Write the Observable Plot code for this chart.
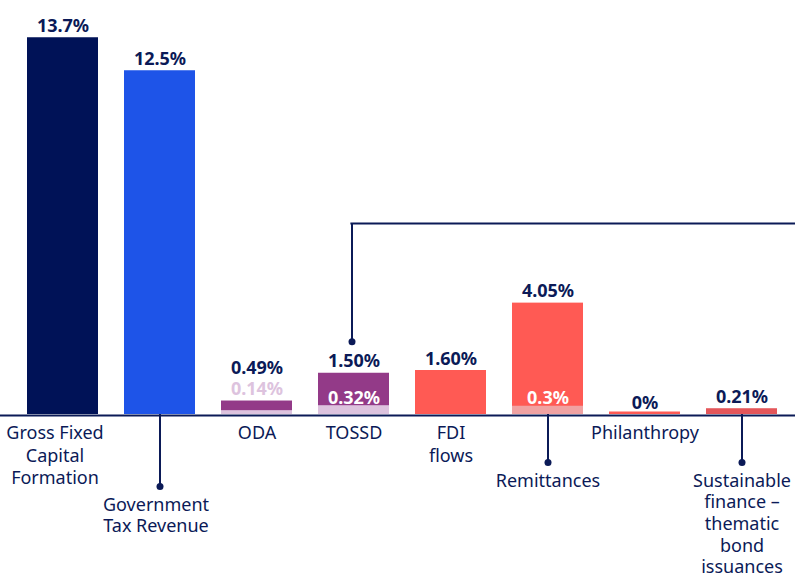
<!DOCTYPE html>
<html><head><meta charset="utf-8">
<script src="https://cdn.jsdelivr.net/npm/d3@7"></script>
<script src="https://cdn.jsdelivr.net/npm/@observablehq/plot@0.6"></script>
<style>
html,body{margin:0;padding:0;background:#fff;overflow:hidden}
#chart svg{display:block;overflow:hidden}
</style></head><body><div id="chart"></div>
<script>
// ---- data ----
const categories = ["Gross Fixed\nCapital\nFormation","Government\nTax Revenue","ODA","TOSSD","FDI\nflows","Remittances","Philanthropy","Sustainable\nfinance –\nthematic\nbond\nissuances"];
const groups = ["gfcf","tax","public","public","private","private","private","sustainable"];
const values = [13.7, 12.5, 0.49, 1.50, 1.60, 4.05, 0, 0.21];
const valueLabels = ["13.7%","12.5%","0.49%","1.50%","1.60%","4.05%","0%","0.21%"];
const subCategories = ["ODA","TOSSD","Remittances"];
const subValues = [0.14, 0.32, 0.3];
const subLabels = ["0.14%","0.32%","0.3%"];
const leaderCategories = ["Government\nTax Revenue","Remittances","Sustainable\nfinance –\nthematic\nbond\nissuances"];
const annotationCategory = "TOSSD";
const annotationSpan = [2.65, 6.95];

// ---- styles / layout ----
const W = 795, H = 578, BASE = 414, PX = 27.5;
const navy = "#0b1a57";
const groupColors = {gfcf:"#001257", tax:"#1e54e8", public:"#933a88", private:"#ff5a54", sustainable:"#e4565a"};
const lightColors = {public:"#ddc3de", private:"#f0a2a2"};
const leaderDepth = {"Government\nTax Revenue": 72};
const defaultDepth = 48;
const labelShift = {"Gross Fixed\nCapital\nFormation": -8, "Government\nTax Revenue": -4};
const font = "Noto Sans";
const xRange = [13, 791], padIn = 0.27, padOut = 0.135;

const rows = categories.map((c, i) => ({cat: c, group: groups[i], value: values[i], label: valueLabels[i]}));
const subRows = subCategories.map((c, i) => {
  const r = rows.find(d => d.cat === c);
  return {cat: c, group: r.group, value: subValues[i], label: subLabels[i], total: r.value};
});
const outsideSub = subRows.filter(d => d.total < 1);
const insideSub = subRows.filter(d => d.total >= 1);
const raised = new Set(outsideSub.map(d => d.cat));
const leaders = leaderCategories.map(c => ({cat: c, depth: -(leaderDepth[c] ?? defaultDepth) / PX}));
const leaderSet = new Set(leaderCategories);

// same band scale as the plot, to find where the annotation's horizontal arm starts
const xb = d3.scaleBand().domain(categories).range(xRange).paddingInner(padIn).paddingOuter(padOut);
const annX = xb(annotationCategory) + xb.bandwidth() / 2 - 2;

const labelStyle = {x: "cat", text: "cat", lineAnchor: "top", dy: 9, fill: navy, fontSize: 18};
const shifts = [...new Set(categories.map(c => labelShift[c] ?? 0))];
const axisLabelMarks = shifts.flatMap(s => [
  Plot.text(rows.filter(d => !leaderSet.has(d.cat) && (labelShift[d.cat] ?? 0) === s), {...labelStyle, y: 0, lineHeight: 1.24, dx: s}),
  Plot.text(leaders.filter(d => (labelShift[d.cat] ?? 0) === s), {...labelStyle, y: "depth", lineHeight: 1.2, dx: s})
]);

const plot = Plot.plot({
  width: W, height: H,
  margin: 0,
  style: {fontFamily: font, background: "#fff"},
  x: {type: "band", domain: categories, range: xRange, paddingInner: padIn, paddingOuter: padOut, axis: null},
  y: {domain: [-(H - BASE) / PX, BASE / PX], range: [H, 0], axis: null},
  marks: [
    Plot.barY(rows, {x: "cat", y: "value", fill: d => groupColors[d.group]}),
    Plot.barY(rows.filter(d => d.value === 0), {x: "cat", y1: 0, y2: 0, insetTop: -2.5, fill: d => groupColors[d.group]}),
    Plot.barY(subRows, {x: "cat", y: "value", fill: d => lightColors[d.group]}),
    Plot.ruleY([0], {stroke: navy, strokeWidth: 2, dy: 1}),
    // value labels
    Plot.text(rows.filter(d => !raised.has(d.cat)), {x: "cat", y: "value", text: "label", lineAnchor: "bottom", dy: -6, fill: navy, fontWeight: 700, fontSize: 18}),
    Plot.text(rows.filter(d => raised.has(d.cat)), {x: "cat", y: "value", text: "label", lineAnchor: "bottom", dy: -27, fill: navy, fontWeight: 700, fontSize: 18}),
    Plot.text(outsideSub, {x: "cat", y: "total", text: "label", lineAnchor: "bottom", dy: -6, fill: d => lightColors[d.group], fontWeight: 700, fontSize: 18}),
    Plot.text(insideSub, {x: "cat", y: "value", text: "label", lineAnchor: "bottom", dy: -2, fill: "#fff", fontWeight: 700, fontSize: 18}),
    // category labels and leaders
    Plot.ruleX(leaders, {x: "cat", y1: 0, y2: "depth", stroke: navy, strokeWidth: 2}),
    Plot.dot(leaders, {x: "cat", y: "depth", r: 3.5, fill: navy}),
    ...axisLabelMarks,
    // TOSSD annotation
    Plot.ruleX([annotationCategory], {x: d => d, y1: annotationSpan[0], y2: annotationSpan[1], stroke: navy, strokeWidth: 2, dx: -2}),
    Plot.ruleY([annotationSpan[1]], {y: d => d, insetLeft: annX - 1, stroke: navy, strokeWidth: 2}),
    Plot.dot([annotationCategory], {x: d => d, y: annotationSpan[0], r: 3.5, fill: navy, dx: -2})
  ]
});
document.getElementById("chart").appendChild(plot);
</script>
</body></html>
